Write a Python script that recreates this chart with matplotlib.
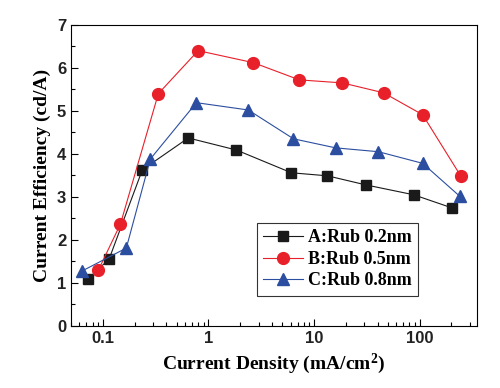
import numpy as np
import matplotlib
matplotlib.use('Agg')
import matplotlib.pyplot as plt
from matplotlib.ticker import MultipleLocator, LogLocator, NullFormatter

# data
xa = [0.073, 0.115, 0.237, 0.645, 1.84, 6.12, 13.4, 30.8, 87.7, 205]
ya = [1.09, 1.56, 3.63, 4.37, 4.09, 3.56, 3.49, 3.28, 3.05, 2.74]
xb = [0.091, 0.147, 0.336, 0.80, 2.67, 7.28, 18.6, 45.6, 107, 245]
yb = [1.30, 2.37, 5.40, 6.40, 6.12, 5.72, 5.65, 5.42, 4.91, 3.49]
xc = [0.064, 0.167, 0.282, 0.77, 2.39, 6.4, 16.0, 40.8, 107, 239]
yc = [1.28, 1.81, 3.88, 5.19, 5.02, 4.35, 4.14, 4.05, 3.78, 3.02]
labels = ['A:Rub 0.2nm', 'B:Rub 0.5nm', 'C:Rub 0.8nm']

serif = 'Liberation Serif'
sans = 'Liberation Sans'
plt.rcParams['mathtext.fontset'] = 'custom'
plt.rcParams['mathtext.rm'] = serif + ':bold'
plt.rcParams['mathtext.bf'] = serif + ':bold'
plt.rcParams['mathtext.it'] = serif + ':bold'

fig = plt.figure(figsize=(5, 3.88), dpi=100)
ax = fig.add_axes([0.142, 0.160, 0.812, 0.776])

ax.plot(xa, ya, '-s', color='#1a1a1a', mfc='#1a1a1a', ms=7, lw=0.8, label=labels[0])
ax.plot(xb, yb, '-o', color='#e8202a', mfc='#e8202a', ms=8.5, lw=0.8, label=labels[1])
ax.plot(xc, yc, '-^', color='#2c4ea0', mfc='#2c4ea0', ms=8.5, lw=0.8, label=labels[2])

ax.set_xscale('log')
ax.set_xlim(0.05, 350)
ax.set_ylim(0, 7)
ax.yaxis.set_major_locator(MultipleLocator(1))
ax.yaxis.set_minor_locator(MultipleLocator(0.5))
ax.xaxis.set_minor_locator(LogLocator(base=10, subs=np.arange(2, 10)))
ax.xaxis.set_minor_formatter(NullFormatter())
ax.set_xticks([0.1, 1, 10, 100])
ax.set_xticklabels(['0.1', '1', '10', '100'])

ax.tick_params(which='both', direction='in', top=False, right=False)
ax.tick_params(which='major', length=5, width=0.8)
ax.tick_params(which='minor', length=3, width=0.8)
for lab in ax.get_xticklabels() + ax.get_yticklabels():
    lab.set_family(sans)
    lab.set_fontweight('bold')
    lab.set_fontsize(12)
    lab.set_color('#222222')

ax.set_xlabel('Current Density (mA/cm$^{2}$)', family=serif, fontweight='bold', fontsize=14)
ax.set_ylabel('Current Efficiency (cd/A)', family=serif, fontweight='bold', fontsize=14)

leg = ax.legend(loc='lower right', bbox_to_anchor=(0.855, 0.1), borderaxespad=0,
                frameon=True, fancybox=False,
                edgecolor='black', prop={'family': serif, 'weight': 'bold', 'size': 13},
                handlelength=2.2, handletextpad=0.3, borderpad=0.35, labelspacing=0.25)
leg.get_frame().set_linewidth(0.8)

fig.savefig('out.png', dpi=100)
